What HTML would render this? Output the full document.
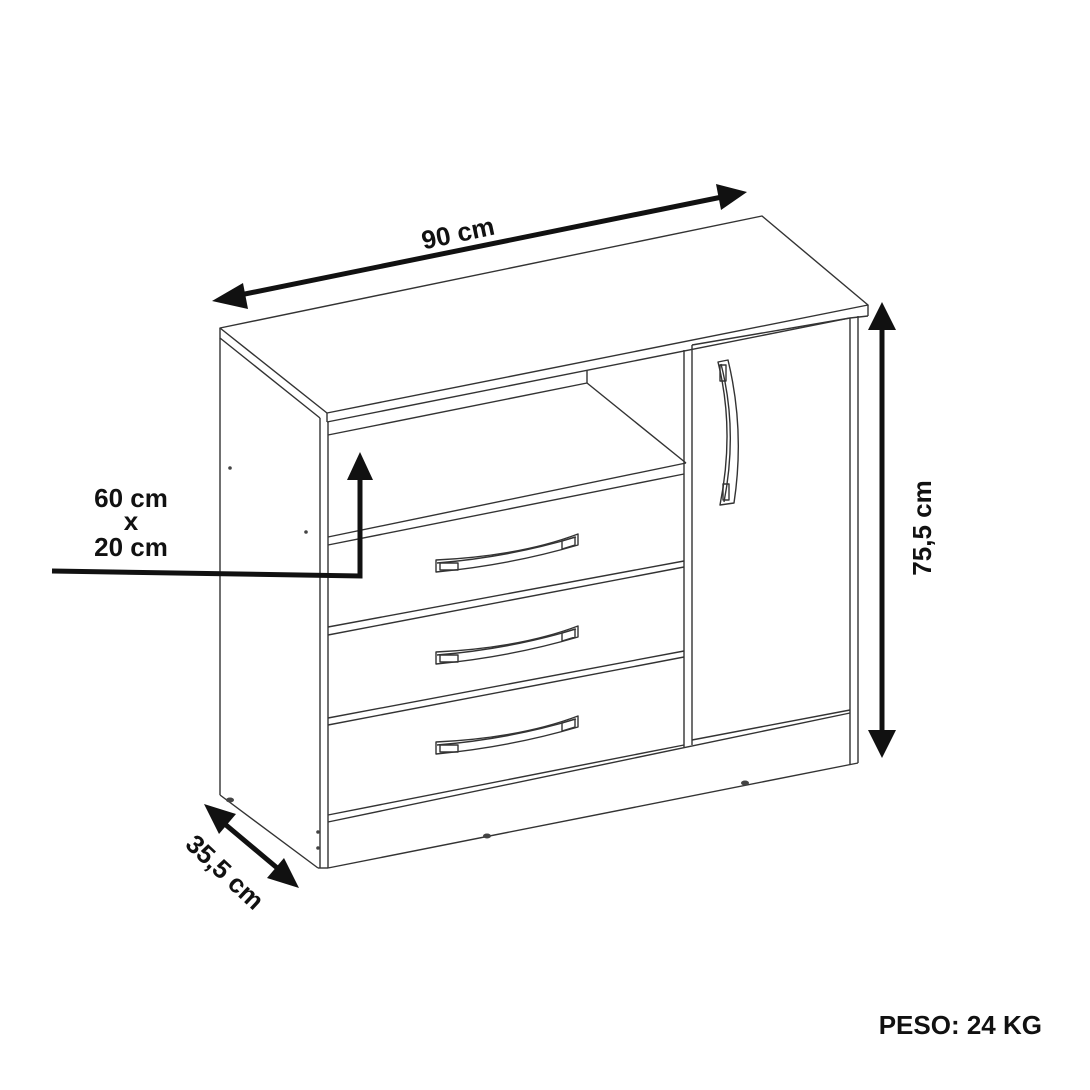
<!DOCTYPE html>
<html><head><style>
html,body{margin:0;padding:0;background:#fff;}
svg{display:block;}
text{font-family:"Liberation Sans",Arial,sans-serif;font-weight:bold;fill:#111;}
</style></head><body>
<svg width="1090" height="1090" viewBox="0 0 1090 1090" xmlns="http://www.w3.org/2000/svg">
<g fill="none" stroke="#333" stroke-width="1.4" stroke-linejoin="round">
<polygon points="220,328 762,216 868,305 327,413" fill="#fff"/>
<polyline points="220,328 220,338 320,418"/>
<line x1="327" y1="413" x2="327" y2="422"/>
<line x1="327" y1="422" x2="850" y2="318"/>
<line x1="868" y1="305" x2="868" y2="316"/>
<line x1="850" y1="318" x2="868" y2="316"/>
<line x1="220" y1="338" x2="220" y2="795"/>
<line x1="220" y1="795" x2="318" y2="868"/>
<line x1="320" y1="418" x2="320" y2="868"/>
<line x1="328" y1="422" x2="328" y2="868"/>
<line x1="318" y1="868" x2="328" y2="868"/>
<line x1="328" y1="435" x2="587" y2="383"/>
<line x1="587" y1="370" x2="587" y2="383"/>
<line x1="587" y1="383" x2="686" y2="463"/>
<line x1="328" y1="537" x2="686" y2="463"/>
<line x1="328" y1="545" x2="684" y2="474"/>
<line x1="684" y1="350" x2="684" y2="747"/>
<line x1="692" y1="345" x2="692" y2="745"/>
<line x1="328" y1="627" x2="684" y2="561"/>
<line x1="328" y1="635" x2="684" y2="567"/>
<line x1="328" y1="718" x2="684" y2="651"/>
<line x1="328" y1="725" x2="684" y2="657"/>
<line x1="328" y1="815" x2="684" y2="745"/>
<line x1="328" y1="822" x2="850" y2="713"/>
<line x1="328" y1="868" x2="858" y2="763"/>
<line x1="692" y1="345" x2="850" y2="318"/>
<line x1="692" y1="740" x2="850" y2="710"/>
<line x1="850" y1="318" x2="850" y2="765"/>
<line x1="858" y1="316" x2="858" y2="763"/>
<g id="h">
<path d="M436,560 L436,572 Q510,565 578,545 L578,534 Q520,556 436,560 Z" fill="#fff"/>
<path d="M437,563 Q510,557 576,537"/>
<rect x="440" y="563" width="18" height="7"/>
<polygon points="562,541 575,537 575,545 562,549"/>
</g>
<use href="#h" transform="translate(0,92)"/>
<use href="#h" transform="translate(0,182)"/>
<path d="M718,362 L728,360 Q745,430 734,503 L720,505 Q735,430 718,362 Z" fill="#fff"/>
<path d="M721,364 Q738,430 724,502"/>
<rect x="720" y="365" width="6" height="16"/>
<rect x="723" y="484" width="6" height="16"/>
</g>
<g fill="#444">
<ellipse cx="230" cy="800" rx="4" ry="2.5"/>
<ellipse cx="487" cy="836" rx="4" ry="2.5"/>
<ellipse cx="745" cy="783" rx="4" ry="2.5"/>
<circle cx="230" cy="468" r="1.8"/>
<circle cx="306" cy="532" r="1.8"/>
<circle cx="318" cy="832" r="1.8"/>
<circle cx="318" cy="848" r="1.8"/>
</g>
<g stroke="#111" stroke-width="5" fill="none">
<line x1="235" y1="296" x2="722" y2="197"/>
<line x1="882" y1="325" x2="882" y2="735"/>
<line x1="220" y1="820" x2="282" y2="872"/>
<polyline points="52,571 360,576 360,475"/>
</g>
<g fill="#111">
<polygon points="212,301 243,283 248,309"/>
<polygon points="747,192 716,184 721,210"/>
<polygon points="882,302 868,330 896,330"/>
<polygon points="882,758 868,730 896,730"/>
<polygon points="204,804 236,814 219,834"/>
<polygon points="299,888 267,878 284,858"/>
<polygon points="360,452 347,480 373,480"/>
</g>
<text x="458" y="233" font-size="26" text-anchor="middle" dy="9" transform="rotate(-12 458 233)">90 cm</text>
<text x="922" y="528" font-size="26" text-anchor="middle" transform="rotate(-90 922 528)" dy="9">75,5 cm</text>
<text x="225" y="872" font-size="26" text-anchor="middle" transform="rotate(43 225 872)" dy="9">35,5 cm</text>
<text x="131" y="507" font-size="26" text-anchor="middle">60 cm</text>
<text x="131" y="530" font-size="26" text-anchor="middle">x</text>
<text x="131" y="556" font-size="26" text-anchor="middle">20 cm</text>
<text x="1042" y="1034" font-size="26" text-anchor="end">PESO: 24 KG</text>
</svg>
</body></html>
